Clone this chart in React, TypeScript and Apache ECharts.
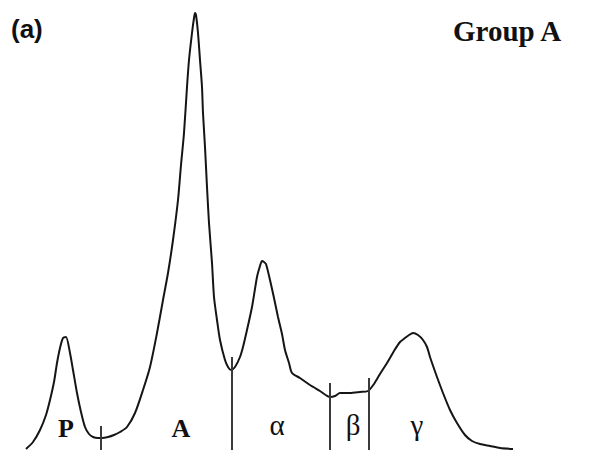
import React, { useEffect, useRef } from "react";
import * as echarts from "echarts";

// Densitometric trace: position along the strip (0–599) and optical density (0–450 units)
const positions = [
  26, 33, 40, 46, 50, 54, 57, 60, 63, 66, 70, 73, 77, 81, 85, 89, 93, 98, 102, 108,
  114, 120, 127, 135, 143, 150, 157, 163, 168, 173, 178, 181, 184, 187, 189, 192,
  194, 195, 196, 198, 200, 202, 203, 205, 207, 209, 212, 214, 217, 220, 225, 228, 231, 235, 240,
  243, 247, 252, 257, 260, 262, 264, 266, 270, 274, 278, 282, 285, 289, 292, 300, 310, 320, 330, 335,
  340, 350, 360, 368, 374, 380, 387, 394, 400, 405, 409, 413, 418, 423, 427, 430, 437, 443, 450, 457,
  465, 472, 480, 490, 500, 513,
];
const density = [
  1, 8, 20, 35, 50, 68, 87, 102, 112, 113, 97, 80, 57, 38, 23, 16, 13, 12, 12, 13,
  15, 18, 23, 37, 60, 83, 117, 150, 177, 210, 250, 285, 317, 363, 390, 417,
  432, 437, 435, 417, 390, 363, 337, 303, 263, 227, 187, 153, 130, 110, 90, 83, 80, 83, 93,
  103, 120, 143, 173, 184, 189, 188, 186, 170, 152, 133, 116, 100, 87, 77, 72, 65, 59, 53, 54,
  57, 57, 58, 59, 66, 76, 87, 99, 108, 112, 115, 117, 115, 110, 103, 93, 73, 57, 40, 27,
  15, 9, 6, 4, 2, 1,
];

// Fraction boundaries (position, top of the separator line in density units)
const boundaryPos = [101, 232, 330, 369];
const boundaryTop = [24, 93, 67, 72];

// Fraction labels
const fractionLabels = ["P", "A", "α", "β", "γ"];
const fractionLabelPos = [66, 181, 277, 353, 417];
const fractionBold = [true, true, false, false, false];

const panelLabel = "(a)";
const groupLabel = "Group A";

export default function App() {
  const ref = useRef<HTMLDivElement>(null);
  useEffect(() => {
    if (!ref.current) return;
    const chart = echarts.init(ref.current, null, { renderer: "svg" });
    const curve = positions.map((p, i) => [p, density[i]]);
    const markLines = boundaryPos.map((p, i) => [
      { coord: [p, 0] },
      { coord: [p, boundaryTop[i]] },
    ]);
    chart.setOption({
      animation: false,
      backgroundColor: "#ffffff",
      grid: { left: 0, right: 0, top: 0, bottom: 0 },
      xAxis: { type: "value", min: 0, max: 599, show: false },
      yAxis: { type: "value", min: 0, max: 450, show: false },
      series: [
        {
          type: "line",
          data: curve,
          smooth: 0.25,
          symbol: "none",
          lineStyle: { color: "#151515", width: 2 },
          markLine: {
            silent: true,
            symbol: "none",
            label: { show: false },
            lineStyle: { color: "#3a3a3a", width: 2, type: "solid" },
            data: markLines,
          },
        },
      ],
    });
    const toPx = (x: number, y: number) =>
      chart.convertToPixel({ gridIndex: 0 }, [x, y]) as number[];
    const texts: any[] = [
      {
        type: "text",
        x: 11,
        y: 29,
        style: {
          text: panelLabel,
          font: "bold 26px 'Liberation Sans', Arial, sans-serif",
          fill: "#111",
          textAlign: "left",
          textVerticalAlign: "middle",
        },
      },
      {
        type: "text",
        x: 453,
        y: 31,
        style: {
          text: groupLabel,
          font: "bold 29px 'Liberation Serif', 'Times New Roman', serif",
          fill: "#111",
          textAlign: "left",
          textVerticalAlign: "middle",
        },
      },
    ];
    fractionLabels.forEach((l, i) => {
      const [px, py] = toPx(fractionLabelPos[i], 22);
      texts.push({
        type: "text",
        x: px,
        y: py - (fractionBold[i] ? 0 : 3),
        style: {
          text: l,
          font: `${fractionBold[i] ? "bold " : ""}${fractionBold[i] ? 26 : 29}px 'Liberation Serif', 'Times New Roman', serif`,
          fill: "#111",
          textAlign: "center",
          textVerticalAlign: "middle",
        },
      });
    });
    chart.setOption({ graphic: texts });
    return () => chart.dispose();
  }, []);
  return (
    <div
      ref={ref}
      style={{ position: "fixed", left: 0, top: 0, width: 599, height: 450 }}
    />
  );
}
